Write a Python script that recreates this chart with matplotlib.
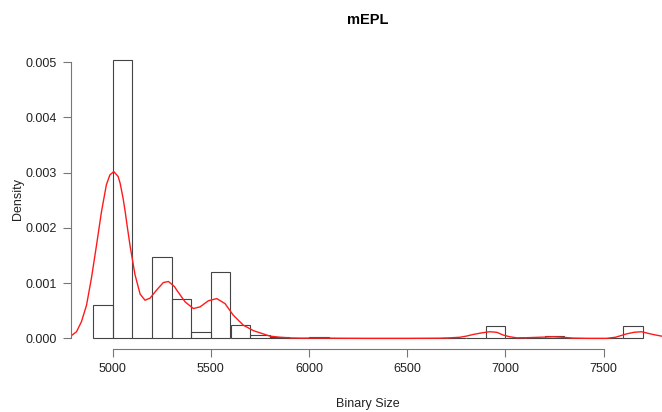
import matplotlib
matplotlib.use("Agg")
from matplotlib import pyplot as plt

plt.rcParams["font.family"] = ["Liberation Sans", "DejaVu Sans"]

# Histogram: left bin edges (width 100) and densities.
bin_left = [4900, 5000, 5100, 5200, 5300, 5400, 5500, 5600, 5700, 5800,
            5900, 6000, 6100, 6200, 6300, 6400, 6500, 6600, 6700, 6800,
            6900, 7000, 7100, 7200, 7300, 7400, 7500, 7600]
bin_density = [0.0006, 0.00504, 0.0, 0.00148, 0.00072, 0.00011, 0.00121,
               0.00025, 0.00006, 0.00002, 0.0, 0.00002, 0.0, 0.0, 0.0, 0.0,
               0.0, 0.0, 0.0, 0.0, 0.00022, 0.0, 0.0, 0.00005, 0.0, 0.0,
               0.0, 0.00022]
bin_width = 100

# Kernel density curve.
kde_x = [4790, 4816, 4841, 4867, 4892, 4918, 4943, 4968, 4986, 5006, 5028,
         5038, 5053, 5064, 5075, 5089, 5114, 5140, 5165, 5191, 5225, 5258,
         5284, 5314, 5327, 5369, 5411, 5445, 5487, 5530, 5572, 5614, 5665,
         5716, 5767, 5801, 5852, 5903, 5960, 6050, 6150, 6300, 6500, 6666,
         6720, 6768, 6800, 6835, 6880, 6920, 6955, 6988, 7020, 7056, 7110,
         7174, 7242, 7290, 7342, 7420, 7514, 7560, 7615, 7655, 7692, 7751,
         7795, 7812]
kde_y = [0.00005, 0.00012, 0.0003, 0.0006, 0.00109, 0.00169, 0.00229,
         0.00278, 0.00296, 0.00302, 0.00293, 0.00281, 0.00254, 0.00229,
         0.00201, 0.00167, 0.00115, 0.00080, 0.00069, 0.00073, 0.00088,
         0.00101, 0.00103, 0.00094, 0.00087, 0.00066, 0.00054, 0.00057,
         0.00068, 0.00072, 0.00063, 0.00042, 0.00024, 0.00014, 0.00008,
         0.00004, 0.00002, 0.000008, 0.000004, 0.000006, 0.000002, 0.0, 0.0,
         0.000003, 0.00001, 0.00002, 0.00004, 0.00007, 0.0001, 0.00012,
         0.00011, 0.00006, 0.00003, 0.00001, 0.000012, 0.00002, 0.000028,
         0.00002, 0.000005, 0.0, 0.0, 0.00002, 0.00008, 0.00011, 0.00012,
         0.00007, 0.00004, 0.00003]

x_ticks = [5000, 5500, 6000, 6500, 7000, 7500]
y_ticks = [0.000, 0.001, 0.002, 0.003, 0.004, 0.005]

fig = plt.figure(figsize=(6.62, 4.12), dpi=100)
ax = fig.add_axes([71 / 662, 1 - 349.4 / 412, 594 / 662, 300.4 / 412])

ax.bar(bin_left, bin_density, width=bin_width, align="edge",
       facecolor="none", edgecolor="#444444", linewidth=0.8)
ax.plot(kde_x, kde_y, color="#ff1a1a", linewidth=1.0)

ax.set_xlim(4788, 7812)
ax.set_ylim(-0.0002, 0.00524)

for side in ("top", "right"):
    ax.spines[side].set_visible(False)
ax.spines["left"].set_bounds(0, 0.005)
ax.spines["bottom"].set_bounds(5000, 7500)
for side in ("left", "bottom"):
    ax.spines[side].set_color("#777777")
    ax.spines[side].set_linewidth(0.8)

ax.set_xticks(x_ticks)
ax.set_xticklabels([str(t) for t in x_ticks])
ax.set_yticks(y_ticks)
ax.set_yticklabels([f"{t:.3f}" for t in y_ticks])
ax.tick_params(direction="out", length=6, width=0.8, color="#777777",
               labelsize=9, labelcolor="#222222", pad=4)

ax.set_xlabel("Binary Size", fontsize=9, color="#222222", labelpad=16)
ax.set_ylabel("Density", fontsize=9, color="#222222", labelpad=1)
ax.set_title("mEPL", fontsize=10.5, fontweight="bold", pad=18)

fig.savefig("out.png", dpi=100)
